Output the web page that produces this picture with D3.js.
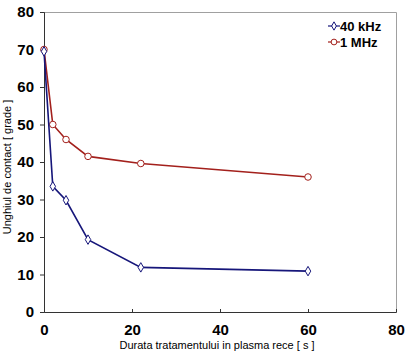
<!DOCTYPE html>
<html lang="en">
<head>
<meta charset="UTF-8">
<title>Unghiul de contact</title>
<style>
  body { margin: 0; background: #fff; }
  svg text { font-family: "Liberation Sans", Arial, sans-serif; }
</style>
</head>
<body>
<svg id="chart"></svg>
<script src="https://d3js.org/d3.v7.min.js"></script>
<script>
// Data
var times = [0, 2, 5, 10, 22, 60];
var khz40 = [69.5, 33.5, 29.8, 19.3, 11.9, 10.9];
var mhz1 = [70, 50, 46, 41.5, 39.6, 36];
var xTicks = [0, 20, 40, 60, 80];
var yTicks = [0, 10, 20, 30, 40, 50, 60, 70, 80];

var W = 406, H = 360;
var margin = { top: 12, right: 10, bottom: 48, left: 44 },
    width = W - margin.left - margin.right,
    height = H - margin.top - margin.bottom;

var svg = d3.select("#chart").attr("width", W).attr("height", H);
var g = svg.append("g").attr("transform", "translate(" + margin.left + "," + margin.top + ")");

var x = d3.scaleLinear().domain([0, 80]).range([0, width]);
var y = d3.scaleLinear().domain([0, 80]).range([height, 0]);

// plot frame (top + right)
g.append("path")
  .attr("d", "M0,0.5H" + (width + 0.5) + "V" + height)
  .attr("fill", "none").attr("stroke", "#a0a0a0").attr("stroke-width", 1);

// axes
var yAxis = g.append("g")
  .call(d3.axisLeft(y).tickValues(yTicks).tickSize(4).tickPadding(6));
var xAxis = g.append("g").attr("transform", "translate(0," + height + ")")
  .call(d3.axisBottom(x).tickValues(xTicks).tickSize(-3).tickPadding(12));
[xAxis, yAxis].forEach(a => {
  a.select(".domain").attr("stroke", "#333");
  a.selectAll(".tick line").attr("stroke", "#333");
  a.selectAll("text").attr("font-size", 15).attr("font-weight", "bold")
    .attr("fill", "#000").style("font-family", "Liberation Sans, Arial, sans-serif");
});

// lines
var series = [
  { name: "40 kHz", vals: khz40, color: "#16167a", marker: "diamond" },
  { name: "1 MHz", vals: mhz1, color: "#a3201c", marker: "circle" }
];
var line = d3.line().x(d => x(d[0])).y(d => y(d[1]));

series.slice().reverse().forEach(s => {
  var pts = times.map((t, i) => [t, s.vals[i]]);
  g.append("path").datum(pts)
    .attr("d", line).attr("fill", "none")
    .attr("stroke", s.color).attr("stroke-width", 1.6);
  var sym = d3.symbol()
    .type(s.marker === "diamond" ? d3.symbolDiamond : d3.symbolCircle)
    .size(s.marker === "diamond" ? 26 : 34);
  g.selectAll(null).data(pts).enter().append("path")
    .attr("d", sym)
    .attr("transform", d => "translate(" + x(d[0]) + "," + y(d[1]) + ")")
    .attr("fill", "#fff").attr("stroke", s.color).attr("stroke-width", 1);
});

// legend
var leg = svg.append("g").attr("transform", "translate(328,26)");
series.forEach((s, i) => {
  var r = leg.append("g").attr("transform", "translate(0," + i * 16 + ")");
  r.append("line").attr("x1", 0).attr("x2", 12).attr("stroke", s.color).attr("stroke-width", 1.2);
  r.append("path")
    .attr("d", d3.symbol().type(s.marker === "diamond" ? d3.symbolDiamond : d3.symbolCircle)
      .size(s.marker === "diamond" ? 20 : 26))
    .attr("transform", "translate(6,0)")
    .attr("fill", "#fff").attr("stroke", s.color);
  r.append("text").attr("x", 12).attr("dy", "0.35em")
    .attr("font-size", 13).attr("font-weight", "bold").text(s.name);
});

// axis titles
svg.append("text")
  .attr("x", 217).attr("y", H - 11)
  .attr("text-anchor", "middle").attr("font-size", 11)
  .text("Durata tratamentului in plasma rece [ s ]");
svg.append("text")
  .attr("transform", "translate(11,167) rotate(-90)")
  .attr("text-anchor", "middle").attr("font-size", 11)
  .text("Unghiul de contact [ grade ]");
</script>
</body>
</html>
